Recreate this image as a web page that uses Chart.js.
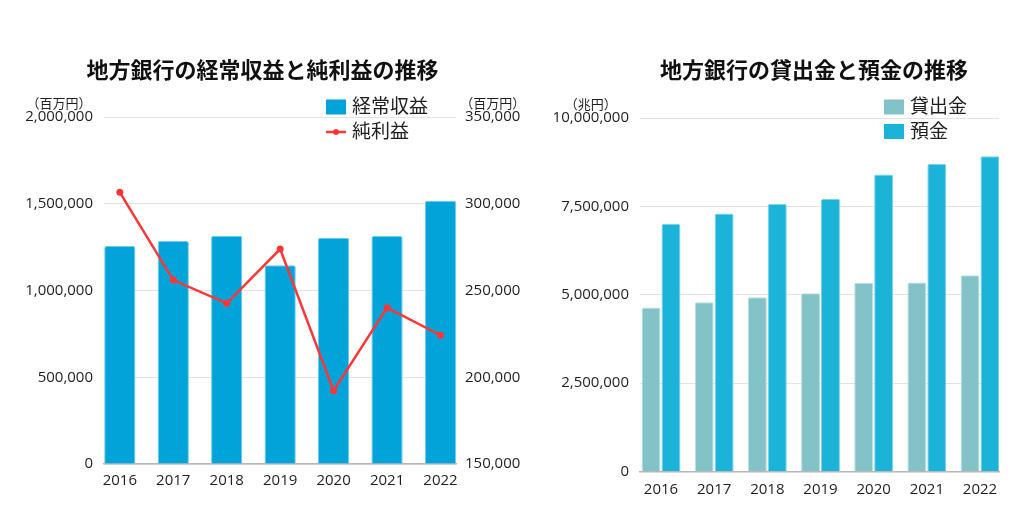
<!DOCTYPE html>
<html lang="ja">
<head>
<meta charset="utf-8">
<title>地方銀行の推移</title>
<script src="https://cdn.jsdelivr.net/npm/chart.js@4.4.1/dist/chart.umd.min.js"></script>
<style>
  html, body { margin: 0; padding: 0; background: #fff; overflow: hidden; }
  #wrap { position: relative; width: 1024px; height: 524px; overflow: hidden; }
  #chartIncome { position: absolute; left: 0; top: 0; }
  #chartLoans { position: absolute; left: 530px; top: 0; }
</style>
</head>
<body>
<div id="wrap">
  <canvas id="chartIncome" width="525" height="524"></canvas>
  <canvas id="chartLoans" width="568" height="524"></canvas>
</div>
<script>
// Data
const years = [2016, 2017, 2018, 2019, 2020, 2021, 2022];

// 経常収益 / 純利益 (百万円)
const ordinaryIncome = [1256000, 1285000, 1316000, 1145000, 1304000, 1314000, 1518000];
const netIncome      = [306600, 256000, 242600, 273900, 192200, 240100, 224200];

// 貸出金 / 預金
const loans    = [4640000, 4790000, 4930000, 5040000, 5340000, 5350000, 5550000];
const deposits = [7000000, 7300000, 7565000, 7710000, 8405000, 8700000, 8920000];

// Axis tick values
const incomeTicks  = [0, 500000, 1000000, 1500000, 2000000];
const netTicks     = [150000, 200000, 250000, 300000, 350000];
const balanceTicks = [0, 2500000, 5000000, 7500000, 10000000];

const TICK_FONT = { family: '"Open Sans", "Noto Sans", sans-serif', size: 15 };
const CJK = '"Noto Sans CJK JP", "Noto Sans", sans-serif';
const TEXT_COLOR = '#1e1e1e';
const GRID_COLOR = '#e3e3e3';

function setTicks(values) {
    return scale => { scale.ticks = values.map(v => ({ value: v })); };
}

// Unit labels above the y axes + legend drawn inside the plot
const sideNotes = {
    id: 'sideNotes',
    afterDraw(chart, args, opts) {
        const ctx = chart.ctx;
        ctx.save();

        // unit labels, centred over each axis' tick labels
        Object.entries(opts.units || {}).forEach(([id, text]) => {
            const s = chart.scales[id];
            ctx.font = `${TICK_FONT.size}px ${TICK_FONT.family}`;
            const w = Math.max(...s.ticks.map(t => ctx.measureText(t.label).width));
            const pad = s.options.ticks.padding;
            const cx = s.position === 'left' ? s.right - pad - w / 2 : s.left + pad + w / 2;
            ctx.font = `13px ${CJK}`;
            ctx.fillStyle = TEXT_COLOR;
            ctx.textAlign = 'center';
            ctx.textBaseline = 'middle';
            ctx.fillText(text, cx, chart.chartArea.top - 14);
        });

        // legend
        const lg = opts.legend;
        chart.data.datasets.forEach((ds, i) => {
            const y = lg.y + i * lg.gap;
            if (ds.type === 'line') {
                ctx.strokeStyle = ds.borderColor;
                ctx.lineWidth = ds.borderWidth;
                ctx.beginPath();
                ctx.moveTo(lg.x, y);
                ctx.lineTo(lg.x + 20, y);
                ctx.stroke();
                ctx.fillStyle = ds.borderColor;
                ctx.beginPath();
                ctx.arc(lg.x + 10, y, 3, 0, Math.PI * 2);
                ctx.fill();
            } else {
                ctx.fillStyle = ds.backgroundColor;
                ctx.fillRect(lg.x, y - 7.5, 20, 15);
            }
            ctx.fillStyle = TEXT_COLOR;
            ctx.font = `19px ${CJK}`;
            ctx.textAlign = 'left';
            ctx.textBaseline = 'middle';
            ctx.fillText(ds.label, lg.x + 26, y - 1);
        });

        ctx.restore();
    }
};

function xAxis(min, max, height, padding) {
    return {
        type: 'linear',
        min: min,
        max: max,
        offset: false,
        grid: { display: false },
        border: { display: true, color: '#b8b8b8', width: 1.5 },
        ticks: { font: TICK_FONT, color: TEXT_COLOR, padding: padding, callback: v => String(v) },
        afterBuildTicks: setTicks(years),
        afterFit: s => { s.height = height; }
    };
}

// 地方銀行の経常収益と純利益の推移
new Chart(document.getElementById('chartIncome'), {
    type: 'bar',
    data: {
        labels: years,
        datasets: [{
            label: '経常収益',
            data: ordinaryIncome,
            yAxisID: 'y',
            backgroundColor: '#02a3d9',
            borderColor: '#6ccdef',
            borderWidth: 1,
            borderRadius: 2,
            categoryPercentage: 0.585,
            barPercentage: 1,
            order: 1
        }, {
            type: 'line',
            label: '純利益',
            data: netIncome,
            yAxisID: 'y1',
            borderColor: '#ff3636',
            backgroundColor: '#ff3636',
            borderWidth: 2.5,
            pointRadius: 3.5,
            pointBorderWidth: 0,
            pointBackgroundColor: '#ff3636',
            tension: 0,
            order: 0
        }]
    },
    options: {
        responsive: false,
        animation: false,
        locale: 'en-US',
        layout: { padding: 0 },
        plugins: {
            legend: { display: false },
            tooltip: { enabled: false },
            title: {
                display: true,
                text: '地方銀行の経常収益と純利益の推移',
                color: '#111',
                font: { family: CJK, size: 22, weight: 'bold' },
                padding: { top: 56, bottom: 34.6 }
            },
            sideNotes: {
                units: { y: '（百万円）', y1: '（百万円）' },
                legend: { x: 326, y: 107, gap: 25 }
            }
        },
        scales: {
            x: xAxis(2015.704, 2022.29, 60, 0),
            y: {
                position: 'left',
                min: incomeTicks[0],
                max: incomeTicks[incomeTicks.length - 1],
                grid: { color: GRID_COLOR, drawTicks: false },
                border: { display: false },
                ticks: { font: TICK_FONT, color: TEXT_COLOR, padding: 11 },
                afterBuildTicks: setTicks(incomeTicks),
                afterFit: s => { s.width = 104; }
            },
            y1: {
                position: 'right',
                min: netTicks[0],
                max: netTicks[netTicks.length - 1],
                grid: { drawOnChartArea: false, drawTicks: false },
                border: { display: false },
                ticks: { font: TICK_FONT, color: TEXT_COLOR, padding: 9 },
                afterBuildTicks: setTicks(netTicks),
                afterFit: s => { s.width = 69; }
            }
        }
    },
    plugins: [sideNotes]
});

// 地方銀行の貸出金と預金の推移
new Chart(document.getElementById('chartLoans'), {
    type: 'bar',
    data: {
        labels: years,
        datasets: [{
            label: '貸出金',
            data: loans,
            backgroundColor: '#83c3c7',
            borderColor: '#b9e0e2',
            borderWidth: 1,
            borderRadius: 1.5,
            categoryPercentage: 0.75,
            barPercentage: 0.95
        }, {
            label: '預金',
            data: deposits,
            backgroundColor: '#1bb3d8',
            borderColor: '#78d4ec',
            borderWidth: 1,
            borderRadius: 1.5,
            categoryPercentage: 0.75,
            barPercentage: 0.95
        }]
    },
    options: {
        responsive: false,
        animation: false,
        locale: 'en-US',
        layout: { padding: 0 },
        plugins: {
            legend: { display: false },
            tooltip: { enabled: false },
            title: {
                display: true,
                text: '地方銀行の貸出金と預金の推移',
                color: '#111',
                font: { family: CJK, size: 22, weight: 'bold' },
                padding: { top: 56, bottom: 35.6 }
            },
            sideNotes: {
                units: { y: '（兆円）' },
                legend: { x: 354, y: 107, gap: 24.5 }
            }
        },
        scales: {
            x: xAxis(2015.605, 2022.357, 52.5, 1),
            y: {
                position: 'left',
                min: balanceTicks[0],
                max: balanceTicks[balanceTicks.length - 1],
                grid: { color: GRID_COLOR, drawTicks: false },
                border: { display: false },
                ticks: { font: TICK_FONT, color: TEXT_COLOR, padding: 11 },
                afterBuildTicks: setTicks(balanceTicks),
                afterFit: s => { s.width = 110; }
            },
            // empty axis on the right, keeps the plot clear of the canvas edge
            spacer: {
                position: 'right',
                display: true,
                grid: { display: false },
                border: { display: false },
                ticks: { display: false },
                afterFit: s => { s.width = 99; }
            }
        }
    },
    plugins: [sideNotes]
});
</script>
</body>
</html>
